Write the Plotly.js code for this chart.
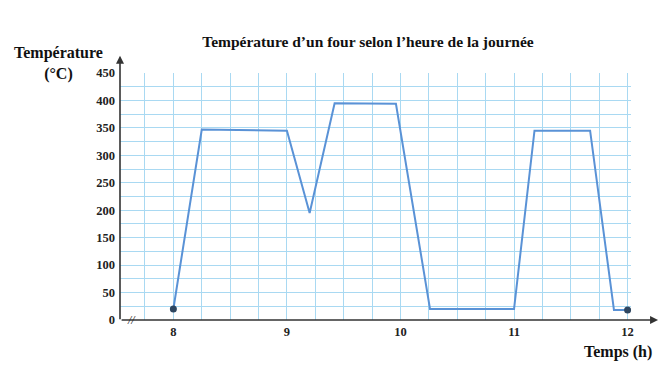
<!DOCTYPE html>
<html>
<head>
<meta charset="utf-8">
<script src="https://cdn.plot.ly/plotly-3.0.1.min.js"></script>
<style>
html,body{margin:0;padding:0;background:#fff;}
#chart{width:663px;height:371px;}
</style>
</head>
<body>
<div id="chart"></div>
<script>
// Data
const hours = [8, 8.25, 9.0, 9.2, 9.42, 9.96, 10.26, 11.0, 11.18, 11.67, 11.88, 12.0];
const temperature = [20, 347, 345, 195, 395, 394, 20, 20, 345, 345, 18, 18];
const xTickVals = [8, 9, 10, 11, 12];
const xTickText = ['8', '9', '10', '11', '12'];
const yTickVals = [0, 50, 100, 150, 200, 250, 300, 350, 400, 450];
const yTickText = ['0', '50', '100', '150', '200', '250', '300', '350', '400', '450'];

const serif = '"Liberation Serif", "DejaVu Serif", serif';
const gridCol = '#a9d9f2';

const line = {
  x: hours, y: temperature, type: 'scatter', mode: 'lines',
  line: {color: '#5a92d6', width: 2}, hoverinfo: 'skip'
};
const ends = {
  x: [hours[0], hours[hours.length - 1]],
  y: [temperature[0], temperature[temperature.length - 1]],
  type: 'scatter', mode: 'markers', cliponaxis: false,
  marker: {color: '#2e4660', size: 7}, hoverinfo: 'skip'
};

const layout = {
  width: 663, height: 371,
  margin: {l: 120, r: 32, t: 73, b: 51},
  paper_bgcolor: '#fff', plot_bgcolor: '#fff',
  showlegend: false,
  title: {
    text: 'Température d’un four selon l’heure de la journée',
    font: {family: serif, size: 15.5, color: '#111', weight: 'bold'},
    x: 0.555, xanchor: 'center', xref: 'container',
    y: 0.887, yanchor: 'middle', yref: 'container'
  },
  xaxis: {
    range: [7.53, 12.03],
    tickvals: xTickVals, ticktext: xTickText,
    ticks: '', showline: false, zeroline: false,
    showgrid: true, gridcolor: gridCol, gridwidth: 1,
    minor: {tick0: 7.5, dtick: 0.25, showgrid: true, gridcolor: gridCol, gridwidth: 1},
    tickfont: {family: serif, size: 12.5, color: '#222', weight: 'bold'},
    ticklabelstandoff: 2
  },
  yaxis: {
    range: [0, 450],
    tickvals: yTickVals, ticktext: yTickText,
    ticks: '', showline: false, zeroline: false,
    showgrid: true, gridcolor: gridCol, gridwidth: 1,
    minor: {tick0: 0, dtick: 25, showgrid: true, gridcolor: gridCol, gridwidth: 1},
    tickfont: {family: serif, size: 12.5, color: '#222', weight: 'bold'},
    ticklabelstandoff: 4
  },
  annotations: [
    {xref: 'paper', yref: 'paper', x: 1.053, y: 0, ax: -538, ay: 0, axref: 'pixel', ayref: 'pixel',
     text: '', showarrow: true, arrowhead: 2, arrowsize: 1, arrowwidth: 1.6, arrowcolor: '#333'},
    {xref: 'paper', yref: 'paper', x: 0, y: 1.07, ax: 0, ay: 265, axref: 'pixel', ayref: 'pixel',
     text: '', showarrow: true, arrowhead: 2, arrowsize: 1, arrowwidth: 1.6, arrowcolor: '#333'},
    {xref: 'paper', yref: 'paper', x: 0.022, y: 0, xanchor: 'center', yanchor: 'middle',
     text: '<i>//</i>', showarrow: false, font: {family: serif, size: 12, color: '#222'}},
    {xref: 'paper', yref: 'paper', x: -0.121, y: 1.04, xanchor: 'center', yanchor: 'middle',
     text: '<b>Température</b><br><b>(°C)</b>', showarrow: false,
     font: {family: serif, size: 16, color: '#111'}},
    {xref: 'paper', yref: 'paper', x: 1.045, y: -0.13, xanchor: 'right', yanchor: 'middle',
     text: '<b>Temps (h)</b>', showarrow: false,
     font: {family: serif, size: 16, color: '#111'}}
  ]
};

Plotly.newPlot('chart', [line, ends], layout, {displayModeBar: false, staticPlot: true});
</script>
</body>
</html>
